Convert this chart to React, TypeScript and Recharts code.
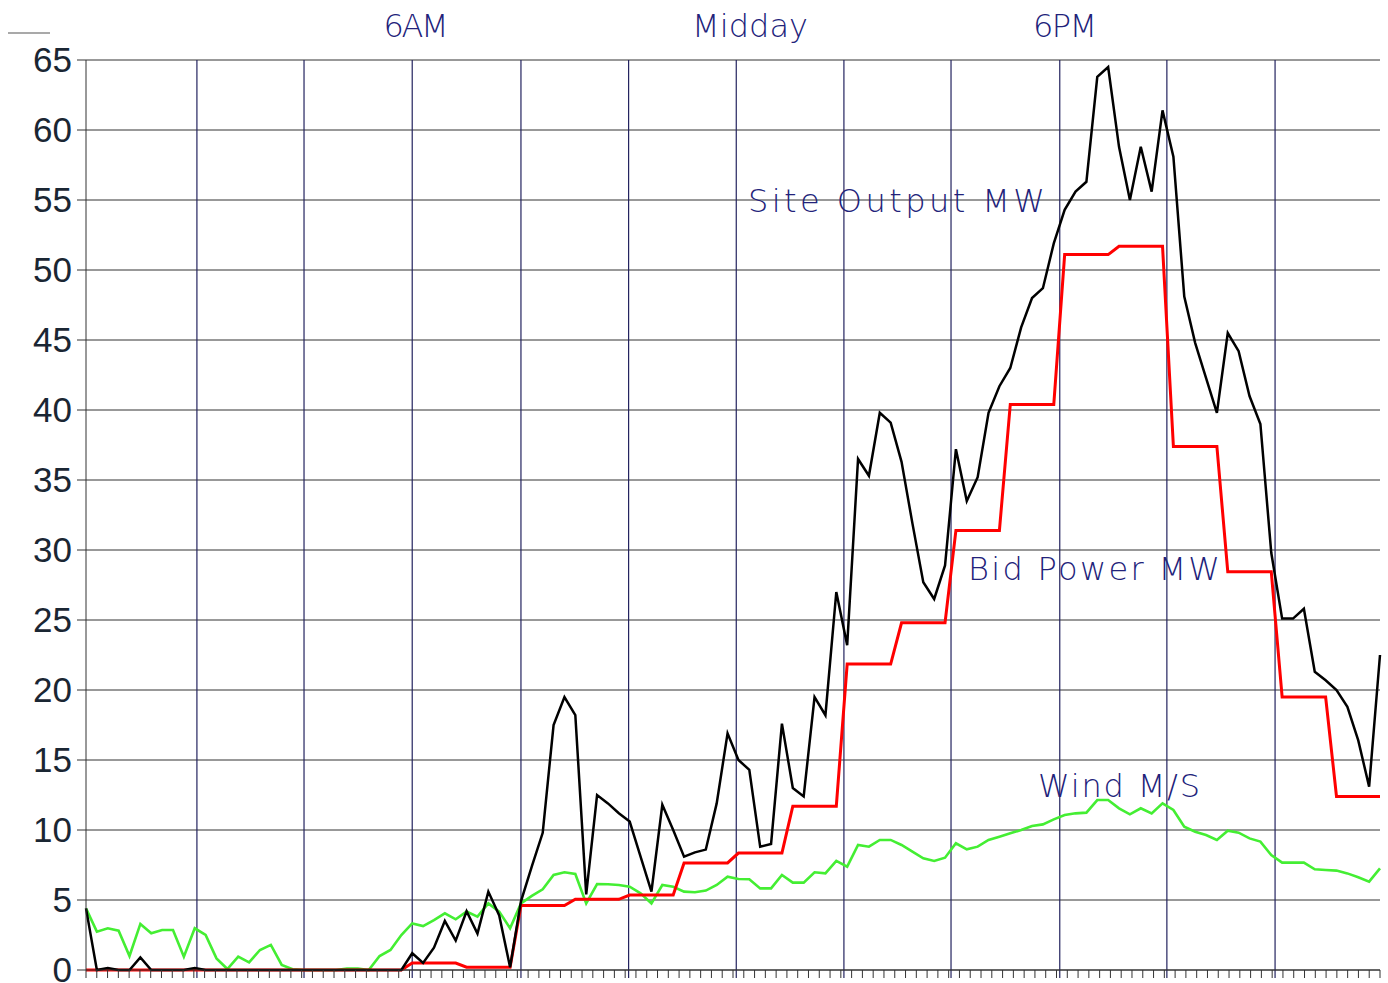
import { LineChart, Line, XAxis, YAxis, CartesianGrid, ReferenceLine } from 'recharts';

// 12-minute samples, midnight to midnight (120 points)
const siteOutput = [
  4.4, 0, 0.15, 0, 0, 0.9, 0, 0, 0, 0,
  0.15, 0, 0, 0, 0, 0, 0, 0, 0, 0,
  0, 0, 0, 0, 0, 0, 0, 0, 0, 0,
  1.2, 0.5, 1.6, 3.5, 2.1, 4.2, 2.6, 5.6, 3.9, 0.2,
  4.9, 7.4, 9.8, 17.5, 19.5, 18.2, 5.4, 12.5, 11.9, 11.2,
  10.6, 8.1, 5.6, 11.8, 10.0, 8.1, 8.4, 8.6, 11.9, 16.9,
  15.0, 14.3, 8.8, 9.0, 17.6, 13.0, 12.4, 19.5, 18.2, 27.0,
  23.2, 36.5, 35.3, 39.8, 39.1, 36.3, 31.9, 27.7, 26.5, 28.9,
  37.2, 33.5, 35.2, 39.8, 41.7, 43.0, 45.9, 48.0, 48.7, 51.9,
  54.3, 55.6, 56.3, 63.8, 64.5, 58.8, 55.0, 58.8, 55.6, 61.4,
  58.1, 48.1, 44.8, 42.3, 39.8, 45.5, 44.2, 41.0, 39.0, 29.8,
  25.1, 25.1, 25.8, 21.3, 20.7, 20.0, 18.8, 16.4, 13.1, 22.5,
];

const bidPower = [
  0, 0, 0, 0, 0, 0, 0, 0, 0, 0,
  0, 0, 0, 0, 0, 0, 0, 0, 0, 0,
  0, 0, 0, 0, 0, 0, 0, 0, 0, 0,
  0.5, 0.5, 0.5, 0.5, 0.5, 0.2, 0.2, 0.2, 0.2, 0.2,
  4.6, 4.6, 4.6, 4.6, 4.6, 5.05, 5.05, 5.05, 5.05, 5.05,
  5.35, 5.35, 5.35, 5.35, 5.35, 7.65, 7.65, 7.65, 7.65, 7.65,
  8.35, 8.35, 8.35, 8.35, 8.35, 11.7, 11.7, 11.7, 11.7, 11.7,
  21.85, 21.85, 21.85, 21.85, 21.85, 24.8, 24.8, 24.8, 24.8, 24.8,
  31.4, 31.4, 31.4, 31.4, 31.4, 40.4, 40.4, 40.4, 40.4, 40.4,
  51.1, 51.1, 51.1, 51.1, 51.1, 51.7, 51.7, 51.7, 51.7, 51.7,
  37.4, 37.4, 37.4, 37.4, 37.4, 28.45, 28.45, 28.45, 28.45, 28.45,
  19.5, 19.5, 19.5, 19.5, 19.5, 12.4, 12.4, 12.4, 12.4, 12.4,
];

const wind = [
  4.4, 2.74, 2.98, 2.81, 1.0, 3.29, 2.62, 2.86, 2.86, 0.95,
  2.98, 2.5, 0.83, 0.07, 0.95, 0.55, 1.43, 1.79, 0.36, 0.05,
  0, 0, 0, 0, 0.1, 0.1, 0, 1.0, 1.43, 2.5,
  3.33, 3.14, 3.57, 4.05, 3.62, 4.17, 3.81, 4.76, 4.17, 2.98,
  4.76, 5.29, 5.76, 6.79, 6.98, 6.86, 4.76, 6.14, 6.12, 6.07,
  5.95, 5.48, 4.76, 6.07, 5.95, 5.6, 5.55, 5.67, 6.07, 6.67,
  6.5, 6.48, 5.83, 5.83, 6.79, 6.24, 6.24, 6.98, 6.9, 7.79,
  7.38, 8.93, 8.81, 9.29, 9.29, 8.93, 8.45, 7.98, 7.79, 8.02,
  9.05, 8.62, 8.81, 9.29, 9.52, 9.76, 10.0, 10.29, 10.4, 10.76,
  11.07, 11.19, 11.24, 12.14, 12.14, 11.55, 11.12, 11.55, 11.19, 11.9,
  11.43, 10.24, 9.88, 9.64, 9.29, 9.95, 9.81, 9.4, 9.17, 8.21,
  7.67, 7.67, 7.67, 7.19, 7.14, 7.1, 6.9, 6.62, 6.31, 7.26,
];

const yTicks = [0, 5, 10, 15, 20, 25, 30, 35, 40, 45, 50, 55, 60, 65];
const topLabels = ['6AM', 'Midday', '6PM'];
// two-hour grid lines (in sample units)
const gridX = [10.2, 20.05, 30, 40, 49.9, 59.8, 69.7, 79.55, 89.55, 99.4, 109.35];
const bottomTicks = Array.from({ length: 121 }, (_, k) => (k * 119) / 120);

const data = siteOutput.map((v, i) => ({ i, site: v, bid: bidPower[i], wind: wind[i] }));

const navy = '#22227a';
const labelFont = "'DejaVu Sans', sans-serif";

export default function App() {
  return (
    <div style={{ position: 'absolute', left: 0, top: 0, width: 1388, height: 983, background: '#fff' }}>
      <LineChart width={1388} height={983} data={data} margin={{ top: 60, right: 8, bottom: 0, left: 0 }}>
        <CartesianGrid vertical={false} stroke="#333" />
        <XAxis
          dataKey="i"
          type="number"
          domain={[0, 119]}
          ticks={bottomTicks}
          interval={0}
          tickFormatter={() => ''}
          tickSize={8}
          height={13}
          stroke="#333"
        />
        <YAxis
          type="number"
          domain={[0, 65]}
          ticks={yTicks}
          interval={0}
          width={86}
          tickSize={9}
          tickMargin={5}
          stroke="#333"
          tick={{ fill: '#1a2633', fontSize: 35, fontFamily: "'Liberation Sans', Arial, sans-serif" }}
        />
        {gridX.map(g => (
          <ReferenceLine
            key={g}
            segment={[{ x: g, y: -0.57 }, { x: g, y: 65 }]}
            stroke="#23235f"
            strokeWidth={1.2}
            ifOverflow="visible"
          />
        ))}
        <Line type="linear" dataKey="wind" stroke="#44ee33" strokeWidth={2.6} dot={false} isAnimationActive={false} />
        <Line type="linear" dataKey="bid" stroke="#ff0000" strokeWidth={3} dot={false} isAnimationActive={false} />
        <Line type="linear" dataKey="site" stroke="#000" strokeWidth={2.5} dot={false} isAnimationActive={false} />
      </LineChart>
      <svg width={1388} height={983} style={{ position: 'absolute', left: 0, top: 0, pointerEvents: 'none' }}>
        <line x1={8} y1={33} x2={50} y2={33} stroke="#555" strokeWidth={1.2} />
        <g fill={navy} fontFamily={labelFont} fontWeight={200} fontSize={32}>
          <text x={416} y={37} textAnchor="middle" textLength={65} lengthAdjust="spacing">{topLabels[0]}</text>
          <text x={750} y={37} textAnchor="middle" textLength={116} lengthAdjust="spacing">{topLabels[1]}</text>
          <text x={1065} y={37} textAnchor="middle" textLength={64} lengthAdjust="spacing">{topLabels[2]}</text>
          <text x={748} y={212} textLength={297} lengthAdjust="spacing">Site Output MW</text>
          <text x={968} y={580} textLength={252} lengthAdjust="spacing">Bid Power MW</text>
          <text x={1038} y={797} textLength={162} lengthAdjust="spacing">Wind M/S</text>
        </g>
      </svg>
    </div>
  );
}
